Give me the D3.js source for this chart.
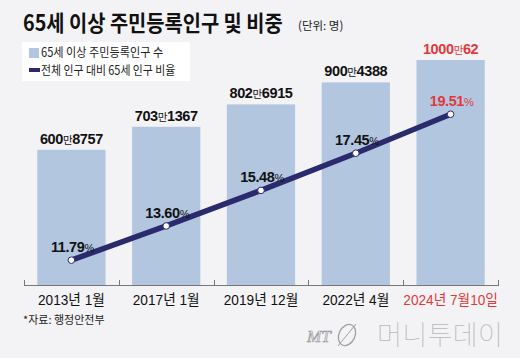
<!DOCTYPE html>
<html><head><meta charset="utf-8">
<script src="https://cdn.jsdelivr.net/npm/d3@7"></script>
<style>
html,body{margin:0;padding:0;background:#f3f3f5;}
svg{display:block;}
</style></head>
<body>
<svg id="chart" width="520" height="358"></svg>
<script>
const categories = ["2013년 1월", "2017년 1월", "2019년 12월", "2022년 4월", "2024년 7월10일"];
const population = [6008757, 7031367, 8026915, 9004388, 10000062];
const popLabels = [["600", "8757"], ["703", "1367"], ["802", "6915"], ["900", "4388"], ["1000", "62"]];
const ratio = [11.79, 13.60, 15.48, 17.45, 19.51];
const ratioLabels = ["11.79", "13.60", "15.48", "17.45", "19.51"];

const FONT = "'Liberation Sans', 'Noto Sans CJK KR', sans-serif";
const KFONT = "'Noto Sans CJK KR', sans-serif";
const RED = "#e0393b", NAVY = "#2a2a6c", BAR = "#b3c6e0", INK = "#111";

const svg = d3.select("#chart");
svg.append("rect").attr("width", 520).attr("height", 358).attr("fill", "#f3f3f5");

function squeeze(sel, k) {
  sel.each(function () {
    const len = this.getComputedTextLength();
    d3.select(this).attr("textLength", len * k).attr("lengthAdjust", "spacingAndGlyphs");
  });
}

const x = d3.scaleBand().domain(categories).range([24, 498]).paddingInner(0.28).paddingOuter(0.14);
const y = d3.scaleLinear().domain([0, 12000000]).range([285, 15]);
const yr = d3.scaleLinear().domain([10, 20]).range([294, 105]);

// title (horizontally condensed via transform)
svg.append("g").attr("transform", "translate(23,31) scale(0.9,1)")
  .append("text").attr("x", 0).attr("y", 0)
  .attr("font-family", KFONT).attr("font-weight", 700).attr("font-size", 22).attr("fill", INK)
  .text("65세 이상 주민등록인구 및 비중");
svg.append("text").attr("x", 298).attr("y", 30)
  .attr("font-family", KFONT).attr("font-size", 11.5).attr("fill", "#222").text("(단위: 명)");

// legend
svg.append("rect").attr("x", 22).attr("y", 42).attr("width", 168).attr("height", 39).attr("fill", "#ffffff");
svg.append("rect").attr("x", 29).attr("y", 48).attr("width", 10).attr("height", 10).attr("fill", BAR);
svg.append("rect").attr("x", 29).attr("y", 68).attr("width", 11).attr("height", 4).attr("fill", NAVY);
const l1 = svg.append("text").attr("x", 41).attr("y", 57).attr("font-family", KFONT).attr("font-size", 12.5)
  .attr("fill", "#222").text("65세 이상 주민등록인구 수");
squeeze(l1, 0.89);
const l2 = svg.append("text").attr("x", 41).attr("y", 75).attr("font-family", KFONT).attr("font-size", 12.5)
  .attr("fill", "#222").text("전체 인구 대비 65세 인구 비율");
squeeze(l2, 0.87);

// bars
svg.append("g").selectAll("rect").data(categories).join("rect")
  .attr("x", d => x(d)).attr("width", x.bandwidth())
  .attr("y", (d, i) => y(population[i])).attr("height", (d, i) => y(0) - y(population[i]))
  .attr("fill", BAR);

// axis baseline & boundary ticks
const axisG = svg.append("g");
axisG.append("line").attr("x1", x.range()[0]).attr("x2", x.range()[1])
  .attr("y1", y(0) + 0.5).attr("y2", y(0) + 0.5).attr("stroke", "#777").attr("stroke-width", 1);
const bounds = d3.range(categories.length + 1).map(i => x.range()[0] + i * x.step());
axisG.selectAll("line.tk").data(bounds).join("line").attr("class", "tk")
  .attr("x1", d => Math.round(d) + 0.5).attr("x2", d => Math.round(d) + 0.5)
  .attr("y1", y(0) - 5).attr("y2", y(0) + 1).attr("stroke", "#777");

// x labels via axis
const xa = svg.append("g").attr("transform", `translate(0,${y(0)})`)
  .call(d3.axisBottom(x).tickSize(0).tickPadding(9));
xa.select(".domain").remove();
xa.selectAll("text").attr("font-family", FONT).attr("font-size", 15)
  .attr("fill", (d, i) => i === categories.length - 1 ? RED : INK)
  .attr("dy", "0.71em");
squeeze(xa.selectAll("text"), 0.91);

// value labels
const vl = svg.append("g").selectAll("text").data(categories).join("text")
  .attr("x", d => x(d) + x.bandwidth() / 2).attr("y", (d, i) => y(population[i]) - 6)
  .attr("text-anchor", "middle").attr("font-family", FONT).attr("letter-spacing", -0.4)
  .attr("fill", (d, i) => i === categories.length - 1 ? RED : INK);
vl.append("tspan").attr("font-weight", 700).attr("font-size", 14.5).text((d, i) => popLabels[i][0]);
vl.append("tspan").attr("font-family", KFONT).attr("font-size", 10.5).text("만");
vl.append("tspan").attr("font-weight", 700).attr("font-size", 14.5).text((d, i) => popLabels[i][1]);

// line
const cx = d => x(d) + x.bandwidth() / 2;
const line = d3.line().x((d, i) => cx(categories[i])).y(d => yr(d));
svg.append("path").datum(ratio).attr("d", line).attr("fill", "none")
  .attr("stroke", NAVY).attr("stroke-width", 5.5).attr("stroke-linecap", "butt");
svg.append("g").selectAll("circle").data(ratio).join("circle")
  .attr("cx", (d, i) => cx(categories[i])).attr("cy", d => yr(d)).attr("r", 3.3)
  .attr("fill", "#fff").attr("stroke", NAVY).attr("stroke-width", 1);

// ratio labels
const rl = svg.append("g").selectAll("text").data(ratio).join("text")
  .attr("x", (d, i) => cx(categories[i]) + 1).attr("y", d => yr(d) - 8)
  .attr("text-anchor", "middle").attr("font-family", FONT).attr("letter-spacing", -0.4)
  .attr("fill", (d, i) => i === ratio.length - 1 ? RED : INK);
rl.append("tspan").attr("font-weight", 700).attr("font-size", 14.5).text((d, i) => ratioLabels[i]);
rl.append("tspan").attr("font-size", 11).text("%");

// source
svg.append("text").attr("x", 23).attr("y", 324).attr("font-family", KFONT)
  .attr("font-size", 11).attr("fill", "#222").text("*자료: 행정안전부");

// logo
const logo = svg.append("g");
logo.append("text").attr("x", 307).attr("y", 342).attr("font-family", "'Liberation Serif', serif")
  .attr("font-style", "italic").attr("font-size", 17).attr("fill", "none").attr("stroke", "#9a9a9e")
  .attr("stroke-width", 0.7).text("MT");
logo.append("ellipse").attr("cx", 347).attr("cy", 335).attr("rx", 8).attr("ry", 11)
  .attr("fill", "none").attr("stroke", "#a0a0a4").attr("stroke-width", 1.3)
  .attr("transform", "rotate(25,347,335)");
logo.append("line").attr("x1", 338).attr("y1", 346).attr("x2", 356).attr("y2", 324)
  .attr("stroke", "#a0a0a4").attr("stroke-width", 1);
logo.append("text").attr("x", 377).attr("y", 345).attr("font-family", KFONT).attr("font-weight", 100)
  .attr("font-size", 27).attr("fill", "#b8b8bc")
  .attr("textLength", 126).attr("lengthAdjust", "spacingAndGlyphs")
  .text("머니투데이");
</script>
</body></html>
